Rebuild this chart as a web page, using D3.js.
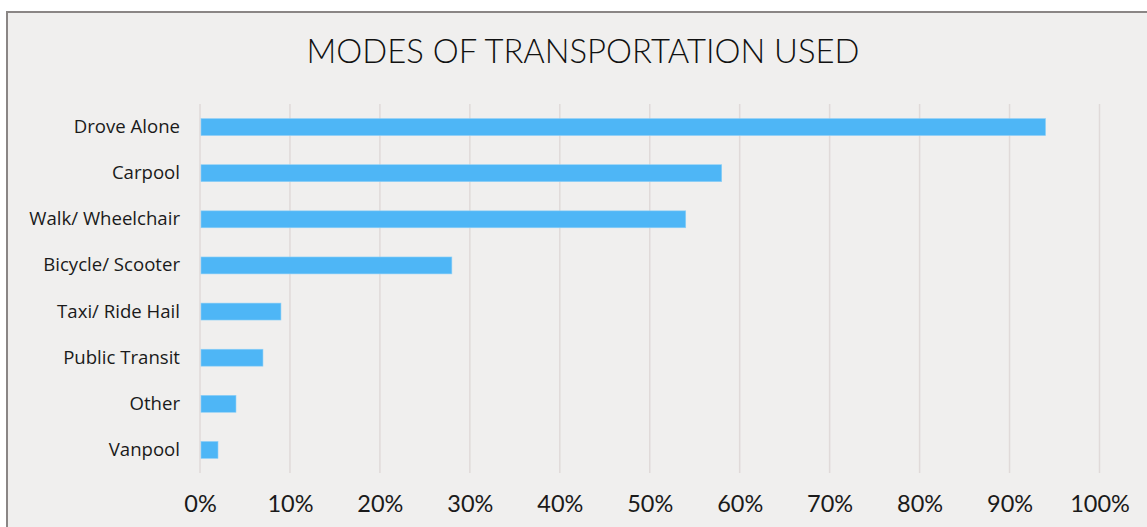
<!DOCTYPE html>
<html>
<head>
<meta charset="utf-8">
<script src="https://cdn.jsdelivr.net/npm/d3@7"></script>
<style>
  html, body { margin: 0; padding: 0; background: #ffffff; }
  svg { display: block; }
</style>
</head>
<body>
<svg id="chart" width="1147" height="527"></svg>
<script>
const title = "MODES OF TRANSPORTATION USED";
const categories = ["Drove Alone", "Carpool", "Walk/ Wheelchair", "Bicycle/ Scooter", "Taxi/ Ride Hail", "Public Transit", "Other", "Vanpool"];
const values = [0.94, 0.58, 0.54, 0.28, 0.09, 0.07, 0.04, 0.02];
const tickValues = [0, 0.1, 0.2, 0.3, 0.4, 0.5, 0.6, 0.7, 0.8, 0.9, 1.0];

const svg = d3.select("#chart");
const W = 1147, H = 527;

// chart area background + border
svg.append("rect")
  .attr("x", 7).attr("y", 12)
  .attr("width", W + 10).attr("height", H + 10)
  .attr("fill", "#f0efee")
  .attr("stroke", "#8a8685")
  .attr("stroke-width", 2);

const x = d3.scaleLinear().domain([0, 1]).range([200, 1099.5]);
const y = d3.scaleBand().domain(categories).range([104, 473]).paddingInner(0.633).paddingOuter(0.3165);

// gridlines
svg.append("g")
  .selectAll("line")
  .data(tickValues)
  .join("line")
  .attr("x1", d => x(d)).attr("x2", d => x(d))
  .attr("y1", 104).attr("y2", 473)
  .attr("stroke", "#e0dad9")
  .attr("stroke-width", 1.5);

// bars
svg.append("g")
  .selectAll("rect")
  .data(categories)
  .join("rect")
  .attr("x", x(0) + 1)
  .attr("y", d => y(d))
  .attr("width", (d, i) => x(values[i]) - x(0) - 1)
  .attr("height", y.bandwidth())
  .attr("fill", "#4eb6f6")
  .attr("stroke", "#8fd0f7")
  .attr("stroke-width", 0.6);

// category labels
const yAxis = d3.axisLeft(y).tickSize(0).tickPadding(0);
const gy = svg.append("g").attr("transform", "translate(180,0)").call(yAxis);
gy.select(".domain").remove();
gy.selectAll("text")
  .attr("font-family", "'Open Sans', 'Noto Sans', sans-serif")
  .attr("font-size", 18.6)
  .attr("fill", "#1a1a1a");

// x axis labels
const xAxis = d3.axisBottom(x).tickValues(tickValues).tickFormat(d3.format(".0%")).tickSize(0).tickPadding(0);
const gx = svg.append("g").attr("transform", "translate(0,495)").call(xAxis);
gx.select(".domain").remove();
gx.selectAll("text")
  .attr("font-family", "Lato, 'Open Sans', sans-serif")
  .attr("font-weight", 400)
  .attr("font-size", 23.5)
  .attr("fill", "#1a1a1a");

// title
svg.append("text")
  .attr("x", 583).attr("y", 63)
  .attr("text-anchor", "middle")
  .attr("font-family", "Lato, 'Open Sans', sans-serif")
  .attr("font-weight", 300)
  .attr("font-size", 32.8)
  .attr("fill", "#111111")
  .text(title);
</script>
</body>
</html>
